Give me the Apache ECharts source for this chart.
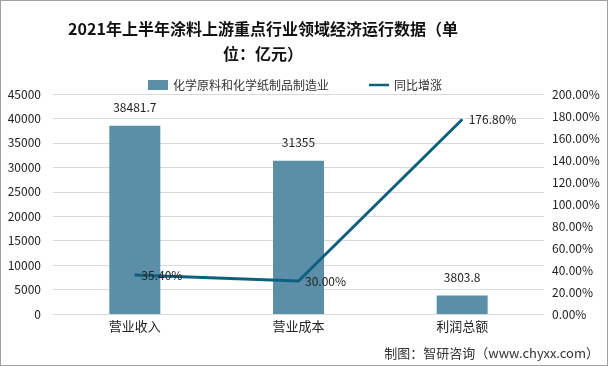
<!DOCTYPE html>
<html><head><meta charset="utf-8">
<script src="https://cdn.jsdelivr.net/npm/echarts@6/dist/echarts.min.js"></script>
<style>html,body{margin:0;padding:0;background:#fff}#c{width:608px;height:366px;box-sizing:border-box;border:1px solid #a0a0a0}</style>
</head><body><div id="c"></div>
<script>
const categories = ['营业收入', '营业成本', '利润总额'];
const barValues = [38481.7, 31355, 3803.8];
const lineValues = [35.4, 30.0, 176.8];
const barName = '化学原料和化学纸制品制造业';
const lineName = '同比增涨';
const titleText = '2021年上半年涂料上游重点行业领域经济运行数据（单\n位：亿元）';
const sourceText = '制图：智研咨询（www.chyxx.com）';

const font = '"Noto Sans CJK SC", sans-serif';
const chart = echarts.init(document.getElementById('c'));
chart.setOption({
  animation: false,
  textStyle: {fontFamily: font},
  title: {
    text: titleText, left: 257, textAlign: 'center', top: 10,
    textStyle: {fontSize: 16, fontWeight: 'bold', color: '#111', lineHeight: 25, fontFamily: font}
  },
  graphic: [{
    type: 'text', right: 8, bottom: 5,
    style: {text: sourceText, fontSize: 13, fill: '#333', fontFamily: font}
  }],
  legend: {
    top: 73, left: 142, itemGap: 40, itemWidth: 20, itemHeight: 10,
    textStyle: {fontSize: 12, color: '#333', fontFamily: font},
    data: [{name: barName, icon: 'rect'},
           {name: lineName, icon: 'path://M0,4 L20,4 L20,6.5 L0,6.5 Z', itemStyle: {color: '#0f5f7f'}}]
  },
  grid: {left: 52, right: 63, top: 93, bottom: 51},
  xAxis: {
    type: 'category', data: categories,
    axisLine: {lineStyle: {color: '#d9d9d9'}}, axisTick: {show: false},
    axisLabel: {fontSize: 13, color: '#222', margin: 6}
  },
  yAxis: [{
    type: 'value', min: 0, max: 45000, interval: 5000,
    axisLine: {show: false}, axisTick: {show: false},
    axisLabel: {fontSize: 12, color: '#222', margin: 12, formatter: v => String(v)},
    splitLine: {lineStyle: {color: '#d9d9d9'}}
  }, {
    type: 'value', min: 0, max: 200, interval: 20,
    axisLine: {show: false}, axisTick: {show: false},
    axisLabel: {fontSize: 12, color: '#222', margin: 8, formatter: v => v.toFixed(2) + '%'},
    splitLine: {show: false}
  }],
  series: [{
    name: barName, type: 'bar', data: barValues, barWidth: 51,
    itemStyle: {color: '#5b8fa8'},
    label: {show: true, position: 'top', distance: 12, fontSize: 12, color: '#222'}
  }, {
    name: lineName, type: 'line', yAxisIndex: 1, data: lineValues,
    symbol: 'circle', symbolSize: 1, showSymbol: true,
    lineStyle: {color: '#0f5f7f', width: 3}, itemStyle: {color: '#0f5f7f'},
    label: {show: true, position: 'right', distance: 6, fontSize: 12, color: '#222',
      formatter: p => p.value.toFixed(2) + '%'}
  }]
});
</script></body></html>
